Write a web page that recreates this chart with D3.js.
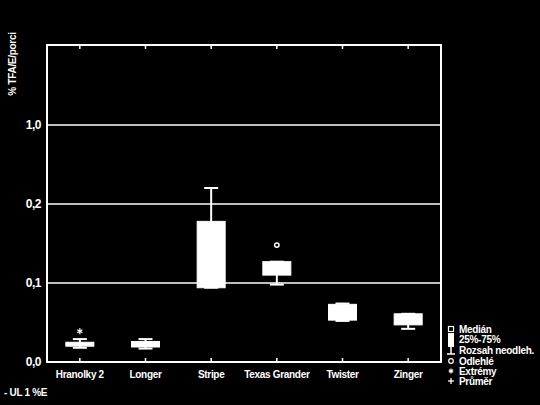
<!DOCTYPE html>
<html>
<head>
<meta charset="utf-8">
<script src="https://cdn.jsdelivr.net/npm/d3@7"></script>
<style>
  body { margin: 0; background: #000; }
  svg { display: block; font-family: "Liberation Sans", Arial, sans-serif; font-weight: bold; }
</style>
</head>
<body>
<svg id="chart" width="540" height="405"></svg>
<script>
// values (% TFA/E per portion)
var categories = ["Hranolky 2", "Longer", "Stripe", "Texas Grander", "Twister", "Zinger"];
var q1     = [0.020, 0.019, 0.094, 0.110, 0.053, 0.047];
var q3     = [0.025, 0.026, 0.178, 0.127, 0.073, 0.061];
var median = [0.023, 0.023, 0.120, 0.118, 0.062, 0.055];
var mean   = [0.024, 0.023, 0.130, 0.120, 0.062, 0.054];
var wMin   = [0.018, 0.017, 0.094, 0.098, 0.052, 0.042];
var wMax   = [0.029, 0.029, 0.362, 0.127, 0.074, 0.061];
var outliers = [[], [], [], [0.148], [], []];
var extremes = [[0.039], [], [], [], [], []];
var yTicks = [0, 0.1, 0.2, 1.0];
var yTickLabels = ["0,0", "0,1", "0,2", "1,0"];
var legendLabels = ["Medián", "25%-75%", "Rozsah neodleh.", "Odlehlé", "Extrémy", "Průměr"];

var svg = d3.select("#chart");
var pLeft = 47, pRight = 441, pTop = 45, pBottom = 362;

var x = d3.scaleBand().domain(categories).range([pLeft, pRight]);
// axis is broken: equal spacing between 0 / 0,1 / 0,2 / 1,0
var y = d3.scaleLinear().domain([0, 0.1, 0.2, 1.0, 1.8]).range([pBottom, 283, 204, 125, pTop]);

var cx = function(i) { return x(categories[i]) + x.bandwidth() / 2; };
var boxW = 28, capW = 14;

function star(s, px, py, r) {
  [0, 60, 120].forEach(function(a) {
    var t = a * Math.PI / 180;
    s.append("line").attr("x1", px - r * Math.sin(t)).attr("x2", px + r * Math.sin(t))
      .attr("y1", py - r * Math.cos(t)).attr("y2", py + r * Math.cos(t))
      .attr("stroke", "#fff").attr("stroke-width", 1.3);
  });
}

// gridlines
svg.selectAll("line.grid").data(yTicks.slice(1)).enter().append("line")
  .attr("x1", pLeft).attr("x2", pRight)
  .attr("y1", function(d) { return y(d); }).attr("y2", function(d) { return y(d); })
  .attr("stroke", "#fff").attr("stroke-width", 1.5);

// frame
svg.append("rect").attr("x", pLeft).attr("y", pTop)
  .attr("width", pRight - pLeft).attr("height", pBottom - pTop)
  .attr("fill", "none").attr("stroke", "#fff").attr("stroke-width", 2);

// ticks top and bottom, inward
categories.forEach(function(c, i) {
  svg.append("line").attr("x1", cx(i)).attr("x2", cx(i)).attr("y1", pTop).attr("y2", pTop + 4)
    .attr("stroke", "#fff").attr("stroke-width", 1.5);
  svg.append("line").attr("x1", cx(i)).attr("x2", cx(i)).attr("y1", pBottom).attr("y2", pBottom - 4)
    .attr("stroke", "#fff").attr("stroke-width", 1.5);
});

// y tick labels
svg.selectAll("text.yt").data(yTicks).enter().append("text")
  .attr("x", 41).attr("y", function(d) { return y(d) + 4; })
  .attr("text-anchor", "end").attr("fill", "#fff").attr("font-size", 12)
  .attr("letter-spacing", -0.5)
  .text(function(d, i) { return yTickLabels[i]; });

// category labels
svg.selectAll("text.xt").data(categories).enter().append("text")
  .attr("x", function(d, i) { return cx(i); }).attr("y", 378)
  .attr("text-anchor", "middle").attr("fill", "#fff").attr("font-size", 10)
  .attr("letter-spacing", -0.3)
  .text(function(d) { return d; });

// y title
svg.append("text").attr("transform", "translate(16,64) rotate(-90)")
  .attr("text-anchor", "middle").attr("fill", "#fff").attr("font-size", 10)
  .attr("letter-spacing", -0.3)
  .text("% TFA/E/porci");

svg.append("text").attr("x", 4).attr("y", 396).attr("fill", "#fff").attr("font-size", 10)
  .attr("letter-spacing", -0.3)
  .text("- UL 1 %E");

// boxes
var g = svg.selectAll("g.box").data(categories).enter().append("g");
g.each(function(d, i) {
  var s = d3.select(this), c = cx(i);
  s.append("line").attr("x1", c).attr("x2", c).attr("y1", y(wMin[i])).attr("y2", y(wMax[i]))
    .attr("stroke", "#fff").attr("stroke-width", 2);
  [wMin[i], wMax[i]].forEach(function(v) {
    s.append("line").attr("x1", c - capW / 2).attr("x2", c + capW / 2).attr("y1", y(v)).attr("y2", y(v))
      .attr("stroke", "#fff").attr("stroke-width", 2);
  });
  s.append("rect").attr("x", c - boxW / 2).attr("y", y(q3[i]))
    .attr("width", boxW).attr("height", Math.max(2, y(q1[i]) - y(q3[i])))
    .attr("fill", "#fff").attr("stroke", "#fff").attr("stroke-width", 1);
  outliers[i].forEach(function(v) {
    s.append("circle").attr("cx", c).attr("cy", y(v)).attr("r", 2.2)
      .attr("fill", "none").attr("stroke", "#fff").attr("stroke-width", 1.5);
  });
  extremes[i].forEach(function(v) { star(s, c, y(v), 3); });
});

// legend
var lx = 451, ly = [329, 339, 350, 361, 371, 381];
svg.selectAll("text.lg").data(legendLabels).enter().append("text")
  .attr("x", 459).attr("y", function(d, i) { return ly[i] + 3.5; })
  .attr("fill", "#fff").attr("font-size", 10).attr("letter-spacing", -0.3)
  .text(function(d) { return d; });
svg.append("rect").attr("x", lx - 2.5).attr("y", ly[0] - 2.5).attr("width", 5).attr("height", 5)
  .attr("fill", "none").attr("stroke", "#fff").attr("stroke-width", 1.2);
svg.append("rect").attr("x", lx - 3).attr("y", 333).attr("width", 6).attr("height", 14).attr("fill", "#fff");
svg.append("line").attr("x1", lx).attr("x2", lx).attr("y1", 347).attr("y2", 354).attr("stroke", "#fff").attr("stroke-width", 1.5);
svg.append("line").attr("x1", lx - 4).attr("x2", lx + 4).attr("y1", 354).attr("y2", 354).attr("stroke", "#fff").attr("stroke-width", 1.5);
svg.append("circle").attr("cx", lx).attr("cy", ly[3]).attr("r", 2.3)
  .attr("fill", "none").attr("stroke", "#fff").attr("stroke-width", 1.2);
star(svg, lx, ly[4], 2.5);
svg.append("line").attr("x1", lx - 3).attr("x2", lx + 3).attr("y1", ly[5]).attr("y2", ly[5]).attr("stroke", "#fff").attr("stroke-width", 1.3);
svg.append("line").attr("x1", lx).attr("x2", lx).attr("y1", ly[5] - 3).attr("y2", ly[5] + 3).attr("stroke", "#fff").attr("stroke-width", 1.3);
</script>
</body>
</html>
